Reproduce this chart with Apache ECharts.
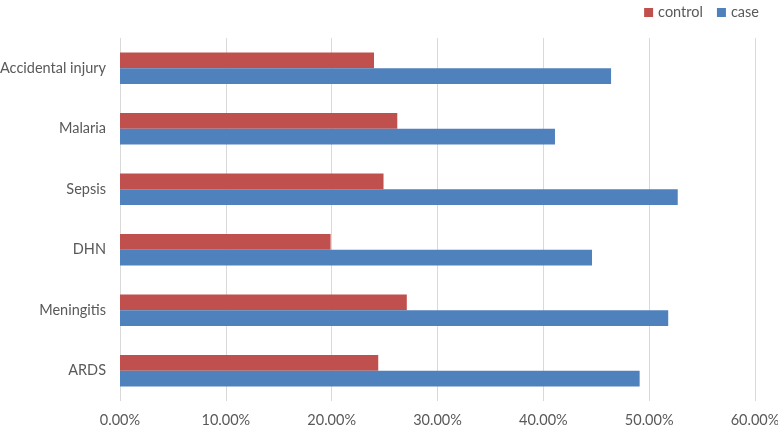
<!DOCTYPE html>
<html>
<head>
<meta charset="utf-8">
<script src="https://cdn.jsdelivr.net/npm/echarts@6/dist/echarts.min.js"></script>
<style>
  html, body { margin: 0; padding: 0; background: #fff; }
  #chart { width: 778px; height: 426px; }
</style>
</head>
<body>
<div id="chart"></div>
<script>
// categories listed bottom to top
const categories = ['ARDS', 'Meningitis', 'DHN', 'Sepsis', 'Malaria', 'Accidental injury'];
const controlValues = [24.4, 27.1, 19.9, 24.9, 26.2, 24.0];
const caseValues = [49.1, 51.8, 44.6, 52.7, 41.1, 46.4];
const xTicks = [0, 10, 20, 30, 40, 50, 60];

let myChart = echarts.init(document.getElementById('chart'));
const font = 'Lato';

myChart.setOption({
    animation: false,
    textStyle: { fontFamily: font },
    legend: {
        data: ['control', 'case'],
        right: 14,
        top: 0,
        itemWidth: 9,
        itemHeight: 9,
        itemGap: 14,
        icon: 'rect',
        textStyle: { fontSize: 14.5, color: '#595959', fontFamily: font }
    },
    grid: { left: 120, right: 23, top: 38, bottom: 25, containLabel: false, outerBoundsMode: 'none' },
    xAxis: {
        type: 'value',
        min: xTicks[0],
        max: xTicks[xTicks.length - 1],
        interval: 10,
        axisLine: { show: false },
        axisTick: { show: false },
        splitLine: { lineStyle: { color: '#d9d9d9', width: 1 } },
        axisLabel: {
            color: '#595959',
            fontSize: 14.5,
            margin: 12,
            fontFamily: font,
            formatter: v => v.toFixed(2) + '%'
        }
    },
    yAxis: {
        type: 'category',
        data: categories,
        axisLine: { show: false },
        axisTick: { show: false },
        axisLabel: { color: '#595959', fontSize: 14.5, margin: 14, fontFamily: font }
    },
    series: [
        {
            name: 'control',
            type: 'bar',
            data: controlValues,
            barGap: '0%',
            barCategoryGap: '48%',
            itemStyle: { color: '#c0504d' }
        },
        {
            name: 'case',
            type: 'bar',
            data: caseValues,
            barGap: '0%',
            barCategoryGap: '48%',
            itemStyle: { color: '#4f81bd' }
        }
    ]
});
</script>
</body>
</html>
